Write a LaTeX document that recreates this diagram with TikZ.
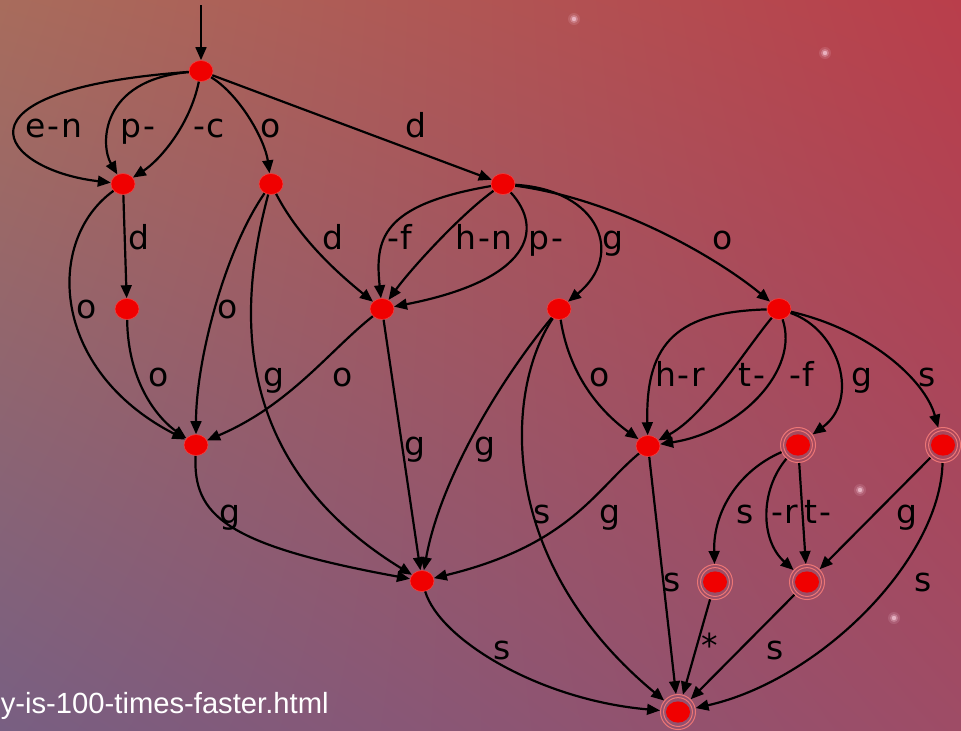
\documentclass[tikz,border=0pt]{standalone}
\usepackage{fontspec}
\setmainfont{DejaVu Sans}[LetterSpace=5]
\newfontfamily\urlfont{Liberation Sans}
\usetikzlibrary{arrows.meta,shapes.geometric,shadings}

\definecolor{dotred}{RGB}{240,0,0}
\definecolor{ringred}{RGB}{236,118,118}
\definecolor{bgtl}{RGB}{168,108,92}
\definecolor{bgtr}{RGB}{185,62,75}
\definecolor{bgbl}{RGB}{120,95,130}
\definecolor{bgbr}{RGB}{158,76,102}
\definecolor{sparkle}{RGB}{245,200,215}

\tikzset{
	state/.style={ellipse, fill=dotred, draw=dotred!75!white, line width=0.3pt,
		minimum width=12pt, minimum height=10.5pt, inner sep=0pt},
	final/.style={circle, draw=ringred, line width=0.5pt, minimum size=17.5pt, inner sep=0pt,
		path picture={
			\draw[ringred, line width=0.5pt] (path picture bounding box.center) circle[radius=7.2pt];
			\fill[dotred] (path picture bounding box.center) ellipse[x radius=6pt, y radius=5.3pt];}},
	edge/.style={-{Triangle[length=6.5pt,width=5.4pt]}, line width=1.1pt},
	lbl/.style={anchor=base, inner sep=0pt, font=\fontsize{16.5}{18}\selectfont},
}

\begin{document}
\begin{tikzpicture}[x=0.5pt, y=-0.5pt]
	\useasboundingbox (0,0) rectangle (961,730);
	\clip (0,0) rectangle (961,730);
	\shade[upper left=bgtl, upper right=bgtr, lower left=bgbl, lower right=bgbr] (0,0) rectangle (961,730);
	% soft sparkles in the background
	\foreach \p in {(574,19),(825,53),(860,490),(894,618)} {
		\fill[sparkle, opacity=0.15] \p circle[radius=3pt];
		\fill[sparkle, opacity=0.3] \p circle[radius=2pt];
		\fill[sparkle, opacity=0.7] \p circle[radius=1.1pt];
	}

	% states
	\coordinate (start) at (201,5);
	\node[state] (q0) at (201,71) {};
	\node[state] (q1) at (123,184) {};
	\node[state] (q2) at (271,184) {};
	\node[state] (q3) at (503,184) {};
	\node[state] (q4) at (127,309) {};
	\node[state] (q5) at (382,309) {};
	\node[state] (q6) at (559,309) {};
	\node[state] (q7) at (779,309) {};
	\node[state] (q8) at (196,445) {};
	\node[state] (q9) at (648,446) {};
	\node[final] (q10) at (798,445) {};
	\node[final] (q11) at (943,445) {};
	\node[state] (q12) at (422,581) {};
	\node[final] (q13) at (715,582) {};
	\node[final] (q14) at (807,582) {};
	\node[final] (q15) at (678,712) {};

	% transitions
	\draw[edge] (start) -- (q0);
	\draw[edge] (q0) .. controls (-60,90) and (0,170) .. (q1);
	\draw[edge] (q0) .. controls (100,80) and (100,145) .. (q1);
	\draw[edge] (q0) .. controls (190,125) and (160,160) .. (q1);
	\draw[edge] (q0) .. controls (240,95) and (265,140) .. (q2);
	\draw[edge] (q0) -- (q3);
	\draw[edge] (q1) -- (q4);
	\draw[edge] (q1) .. controls (45,240) and (50,370) .. (q8);
	\draw[edge] (q4) .. controls (128,385) and (160,420) .. (q8);
	\draw[edge] (q2) .. controls (225,250) and (196,360) .. (q8);
	\draw[edge] (q2) .. controls (240,300) and (225,460) .. (q12);
	\draw[edge] (q2) .. controls (300,240) and (340,275) .. (q5);
	\draw[edge] (q3) .. controls (380,205) and (375,240) .. (q5);
	\draw[edge] (q3) .. controls (460,215) and (410,270) .. (q5);
	\draw[edge] (q3) .. controls (545,230) and (530,280) .. (q5);
	\draw[edge] (q3) .. controls (600,190) and (625,255) .. (q6);
	\draw[edge] (q3) .. controls (620,200) and (720,260) .. (q7);
	\draw[edge] (q5) .. controls (330,350) and (290,405) .. (q8);
	\draw[edge] (q5) -- (q12);
	\draw[edge] (q6) .. controls (500,380) and (440,480) .. (q12);
	\draw[edge] (q6) .. controls (505,390) and (495,560) .. (q15);
	\draw[edge] (q6) .. controls (570,380) and (605,415) .. (q9);
	\draw[edge] (q7) .. controls (680,312) and (645,340) .. (q9);
	\draw[edge] (q7) .. controls (745,350) and (705,415) .. (q9);
	\draw[edge] (q7) .. controls (800,370) and (740,432) .. (q9);
	\draw[edge] (q7) .. controls (840,330) and (860,400) .. (q10);
	\draw[edge] (q7) .. controls (870,330) and (925,380) .. (q11);
	\draw[edge] (q8) .. controls (193,515) and (225,545) .. (q12);
	\draw[edge] (q9) .. controls (595,490) and (570,545) .. (q12);
	\draw[edge] (q9) -- (q15);
	\draw[edge] (q10) .. controls (740,470) and (713,510) .. (q13);
	\draw[edge] (q10) .. controls (760,490) and (760,540) .. (q14);
	\draw[edge] (q10) -- (q14);
	\draw[edge] (q11) -- (q14);
	\draw[edge] (q11) .. controls (940,560) and (820,680) .. (q15);
	\draw[edge] (q12) .. controls (440,640) and (540,700) .. (q15);
	\draw[edge] (q13) -- (q15);
	\draw[edge] (q14) -- (q15);

	% labels
	\node[lbl] (l01) at (54,137) {e-n};
	\node[lbl] (l02) at (138,137) {p-};
	\node[lbl] (l03) at (209,137) {-c};
	\node[lbl] (l04) at (271,137) {o};
	\node[lbl] (l05) at (416,137) {d};
	\node[lbl] (l06) at (139,249) {d};
	\node[lbl] (l07) at (333,249) {d};
	\node[lbl] (l08) at (400,249) {-f};
	\node[lbl] (l09) at (484,249) {h-n};
	\node[lbl] (l10) at (546,249) {p-};
	\node[lbl] (l11) at (613,249) {g};
	\node[lbl] (l12) at (723,249) {o};
	\node[lbl] (l13) at (87,318) {o};
	\node[lbl] (l14) at (228,318) {o};
	\node[lbl] (l15) at (159,386) {o};
	\node[lbl] (l16) at (274,386) {g};
	\node[lbl] (l17) at (343,386) {o};
	\node[lbl] (l18) at (600,386) {o};
	\node[lbl] (l19) at (680,386) {h-r};
	\node[lbl] (l20) at (752,386) {t-};
	\node[lbl] (l21) at (802,386) {-f};
	\node[lbl] (l22) at (862,386) {g};
	\node[lbl] (l23) at (927,386) {s};
	\node[lbl] (l24) at (415,455) {g};
	\node[lbl] (l25) at (485,455) {g};
	\node[lbl] (l26) at (230,523) {g};
	\node[lbl] (l27) at (542,523) {s};
	\node[lbl] (l28) at (610,523) {g};
	\node[lbl] (l29) at (745,523) {s};
	\node[lbl] (l30) at (785,523) {-r};
	\node[lbl] (l31) at (818,523) {t-};
	\node[lbl] (l32) at (907,523) {g};
	\node[lbl] (l33) at (672,591) {s};
	\node[lbl] (l34) at (923,591) {s};
	\node[lbl] (l35) at (502,659) {s};
	\node[lbl, anchor=center] (l36) at (710,645) {*};
	\node[lbl] (l37) at (775,659) {s};

	\node[anchor=base east, inner sep=0pt, text=white, font=\urlfont\fontsize{14.6}{16}\selectfont]
		(url) at (329,713) {y-is-100-times-faster.html};
\end{tikzpicture}
\end{document}
